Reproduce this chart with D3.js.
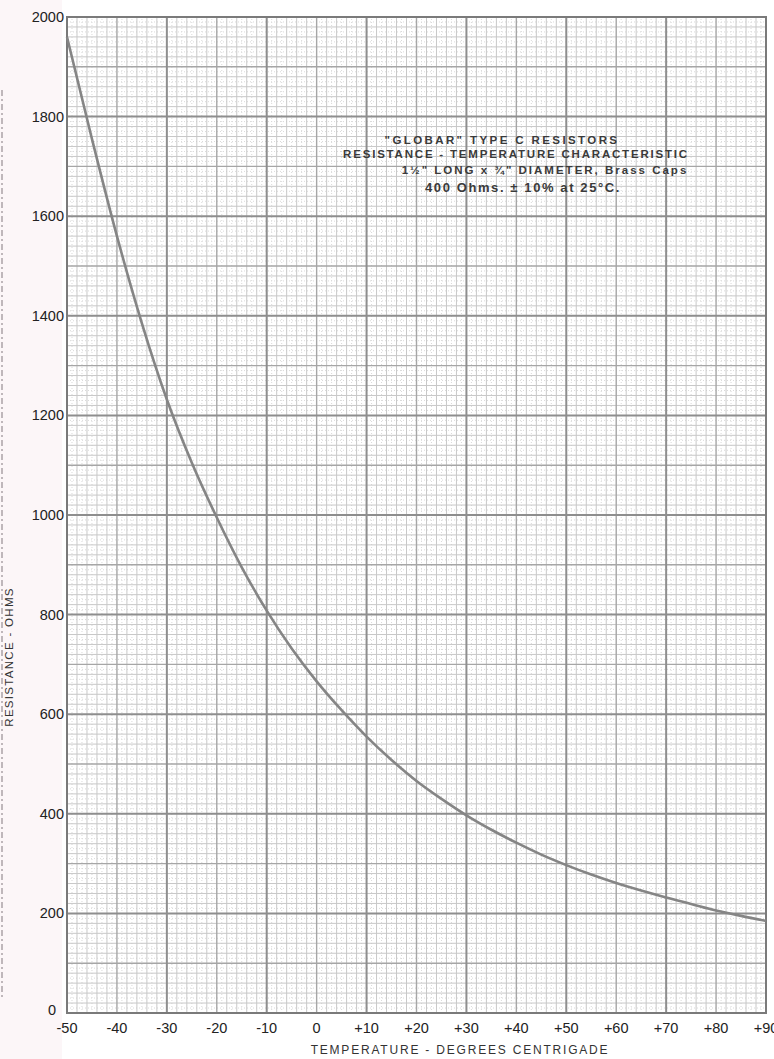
<!DOCTYPE html>
<html>
<head>
<meta charset="utf-8">
<script src="https://cdn.jsdelivr.net/npm/d3@7"></script>
<style>
  body { margin: 0; background: #fff; }
  svg { display: block; }
</style>
</head>
<body>
<div id="visualization"></div>
<script>
const width = 774;
const height = 1059;

// curve, every 5 degrees
const temperatures = [-50, -45, -40, -35, -30, -25, -20, -15, -10, -5, 0, 5, 10, 15, 20,
    25, 30, 35, 40, 45, 50, 55, 60, 65, 70, 75, 80, 85, 90];
const resistances = [1960, 1755, 1560, 1385, 1232, 1105, 995, 895, 808, 732, 666, 608, 555, 508, 466,
    430, 397, 368, 342, 318, 297, 278, 261, 246, 232, 219, 206, 195, 185];

const xTicks = [-50, -40, -30, -20, -10, 0, 10, 20, 30, 40, 50, 60, 70, 80, 90];
const xTickLabels = ['-50', '-40', '-30', '-20', '-10', '0', '+10', '+20', '+30', '+40', '+50', '+60', '+70', '+80', '+90'];
const yTicks = [0, 200, 400, 600, 800, 1000, 1200, 1400, 1600, 1800, 2000];

const titleLines = [
    '"GLOBAR" TYPE C RESISTORS',
    'RESISTANCE - TEMPERATURE CHARACTERISTIC',
    '1½" LONG x ¾" DIAMETER, Brass Caps',
    '400 Ohms. ± 10% at 25°C.'
];

const x = d3.scaleLinear().domain([-50, 90]).range([67, 766]);
const y = d3.scaleLinear().domain([0, 2000]).range([1013, 17]);

const svg = d3.select('#visualization').append('svg')
    .attr('width', width)
    .attr('height', height)
    .style('font-family', 'Liberation Sans, Arial, sans-serif');

// slightly pink margin of the scanned sheet
svg.append('rect').attr('x', 0).attr('y', 0).attr('width', 62).attr('height', height)
    .attr('fill', '#fcf6f8');
svg.append('line').attr('x1', 2).attr('x2', 2).attr('y1', 90).attr('y2', 1000)
    .attr('stroke', '#aaa2a6').attr('stroke-width', 1.5).attr('stroke-dasharray', '6,3,2,3');

const grid = svg.append('g');

function gridLines(xs, ys, color, w, dash) {
    grid.append('g').selectAll('line').data(xs).join('line')
        .attr('x1', d => x(d)).attr('x2', d => x(d))
        .attr('y1', y(0)).attr('y2', y(2000))
        .attr('stroke', color).attr('stroke-width', w)
        .attr('stroke-dasharray', dash);
    grid.append('g').selectAll('line').data(ys).join('line')
        .attr('y1', d => y(d)).attr('y2', d => y(d))
        .attr('x1', x(-50)).attr('x2', x(90))
        .attr('stroke', color).attr('stroke-width', w)
        .attr('stroke-dasharray', dash);
}

// fine dotted, minor, medium, heavy
gridLines(d3.range(-49, 90, 2), d3.range(10, 2000, 20), '#dadada', 1, '1,2');
gridLines(d3.range(-48, 90, 2).filter(d => d % 10 !== 0), d3.range(20, 2000, 20).filter(d => d % 100 !== 0), '#c8c8c8', 1, null);
gridLines(d3.range(-40, 90, 20), d3.range(100, 2000, 200), '#a6a6a6', 1.4, null);
gridLines(d3.range(-30, 90, 20), d3.range(200, 2000, 200), '#8e8e8e', 2, null);

// frame
svg.append('rect')
    .attr('x', x(-50)).attr('y', y(2000))
    .attr('width', x(90) - x(-50)).attr('height', y(0) - y(2000))
    .attr('fill', 'none').attr('stroke', '#7a7a7a').attr('stroke-width', 2);

// curve
const points = temperatures.map((t, i) => [t, resistances[i]]);
const line = d3.line()
    .x(d => x(d[0]))
    .y(d => y(d[1]))
    .curve(d3.curveMonotoneX);

svg.append('path')
    .datum(points)
    .attr('d', line)
    .attr('fill', 'none')
    .attr('stroke', '#858585')
    .attr('stroke-width', 2.6);

// y tick labels
svg.append('g').selectAll('text').data(yTicks).join('text')
    .attr('x', d => d === 0 ? 56 : 64)
    .attr('y', d => d === 0 ? y(d) + 2 : y(d) + 5)
    .attr('text-anchor', 'end')
    .attr('font-size', 14.5)
    .attr('fill', '#222')
    .text(d => d);

// x tick labels
svg.append('g').selectAll('text').data(xTicks).join('text')
    .attr('x', d => x(d))
    .attr('y', 1033)
    .attr('text-anchor', 'middle')
    .attr('font-size', 14.5)
    .attr('fill', '#222')
    .text((d, i) => xTickLabels[i]);

// axis titles
svg.append('text')
    .attr('x', 460).attr('y', 1054)
    .attr('text-anchor', 'middle')
    .attr('font-size', 12)
    .attr('letter-spacing', 1.8)
    .attr('fill', '#333')
    .text('TEMPERATURE - DEGREES CENTRIGADE');

svg.append('text')
    .attr('transform', 'translate(13,657) rotate(-90)')
    .attr('text-anchor', 'middle')
    .attr('font-size', 11.5)
    .attr('letter-spacing', 1.3)
    .attr('fill', '#333')
    .text('RESISTANCE - OHMS');

// title block in the upper right
svg.append('g').selectAll('text').data(titleLines).join('text')
    .attr('x', (d, i) => [502, 516, 545, 523][i])
    .attr('y', (d, i) => [144, 158, 174, 192][i])
    .attr('text-anchor', 'middle')
    .attr('font-size', (d, i) => i === 3 ? 13 : 11.5)
    .attr('font-weight', 'bold')
    .attr('letter-spacing', (d, i) => [2.4, 1.8, 2.0, 1.6][i])
    .attr('fill', '#3a3a3a')
    .text(d => d);
</script>
</body>
</html>
